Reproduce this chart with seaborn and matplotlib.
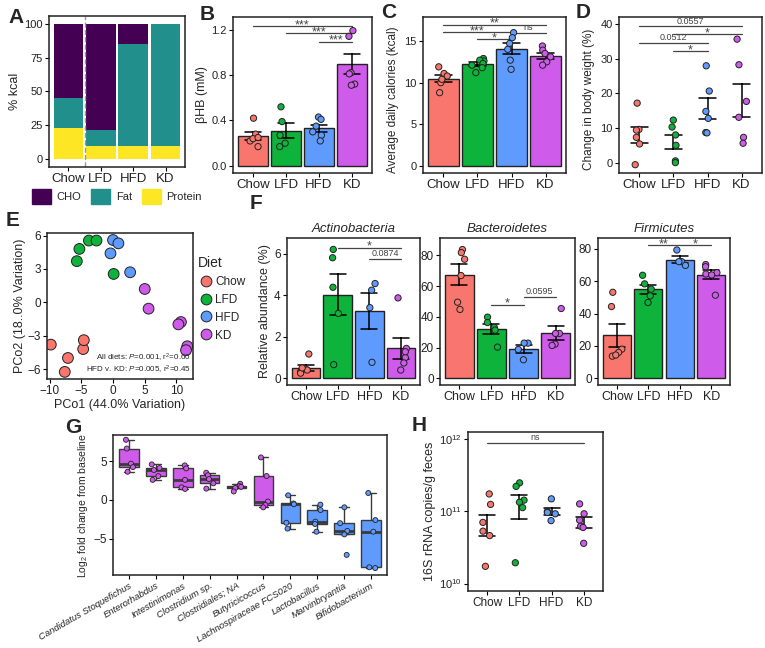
import numpy as np
import pandas as pd
import seaborn as sns
import matplotlib.pyplot as plt
from matplotlib.patches import Patch

sns.set_theme(style='ticks')
plt.rcParams['font.family'] = ['Liberation Sans', 'DejaVu Sans']
plt.rcParams['mathtext.fontset'] = 'custom'
plt.rcParams['mathtext.rm'] = 'Liberation Sans'
plt.rcParams['mathtext.it'] = 'Liberation Sans:italic'

diets = ['Chow', 'LFD', 'HFD', 'KD']
pal = {'Chow': '#F8766D', 'LFD': '#0DB33A', 'HFD': '#5F9BFF', 'KD': '#CF5BEA'}

# A - diet composition (% kcal)
macros = ['CHO', 'Fat', 'Protein']
macro_colors = ['#440154', '#21908C', '#FDE725']
kcal_cho = [55, 78, 15, 0]
kcal_fat = [22, 12, 75, 90.5]
kcal_protein = [23, 10, 10, 9.5]

# B - beta-hydroxybutyrate (mM)
bhb = {'Chow': [0.42, 0.28, 0.22, 0.24, 0.17, 0.25],
       'LFD': [0.52, 0.39, 0.27, 0.20, 0.17],
       'HFD': [0.43, 0.41, 0.35, 0.27, 0.22, 0.30],
       'KD': [1.19, 1.14, 0.82, 0.81, 0.72, 0.71]}
sig_b = [(0, 3, 1.23, '***'), (1, 3, 1.165, '***'), (2, 3, 1.094, '***')]

# C - average daily calories (kcal)
calories = {'Chow': [11.9, 11.1, 10.8, 10.0, 8.8, 10.4],
            'LFD': [12.9, 12.6, 12.7, 12.3, 11.8, 11.2, 12.1],
            'HFD': [16.0, 15.4, 14.7, 14.0, 12.7, 11.6],
            'KD': [14.4, 13.9, 13.5, 13.1, 12.5, 12.1]}
sig_c = [(0, 3, 16.96, '**'), (0, 2, 16.08, '***'), (2, 3, 15.96, 'ns'), (1, 2, 15.24, '*')]

# D - change in body weight (%)
weight = {'Chow': [17.2, 9.6, 9.4, 7.3, 5.4, -0.6],
          'LFD': [12.3, 10.3, 8.0, 5.0, 0.5, 0.0],
          'HFD': [28.0, 20.7, 14.8, 12.8, 8.7, 8.6],
          'KD': [35.7, 28.3, 17.7, 13.1, 7.3, 5.6]}
sig_d = [(0, 3, 39.4, '0.0557'), (1, 3, 37.2, '*'), (0, 2, 34.6, '0.0512'), (1, 2, 32.3, '*')]

# E - PCoA
pco_diet = ['Chow'] * 5 + ['LFD'] * 5 + ['HFD'] * 4 + ['KD'] * 6
pco1 = [-9.8, -7.1, -7.6, -4.7, -4.6,
        -5.3, -5.7, -3.8, -2.6, 0.1,
        0.0, 0.85, -0.4, 2.7,
        5.0, 5.6, 10.7, 10.3, 11.7, 11.5]
pco2 = [-3.8, -5.0, -6.25, -4.2, -3.4,
        4.8, 3.7, 5.55, 5.55, 2.55,
        5.6, 5.3, 4.4, 2.7,
        1.2, -0.57, -1.77, -1.98, -3.95, -4.3]

# F - phylum relative abundance (%)
actino = {'Chow': [1.17, 0.45, 0.40, 0.30, 0.25, 0.50],
          'LFD': [6.2, 5.8, 4.38, 3.12, 0.66],
          'HFD': [4.56, 4.24, 3.4, 0.77],
          'KD': [3.87, 1.44, 1.0, 0.74, 0.4, 1.28]}
bactero = {'Chow': [83.7, 81.7, 77.4, 66.8, 49.5, 44.8],
           'LFD': [39.8, 36.3, 33.1, 31.4, 20.3],
           'HFD': [22.9, 22.9, 18.8, 12.1],
           'KD': [45.4, 29.2, 29.2, 22.3, 21.4]}
firmi = {'Chow': [53.1, 44.3, 18.0, 16.0, 13.7, 14.4],
         'LFD': [63.6, 58.3, 55.0, 50.9, 46.8],
         'HFD': [79.2, 72.0, 69.7, 72.0],
         'KD': [70.2, 68.9, 64.4, 65.2, 63.8, 51.3]}
sig_f1 = [(1, 3, 6.29, '*'), (2, 3, 5.76, '0.0874')]
sig_f2 = [(1, 2, 47.8, '*'), (2, 3, 53.0, '0.0595')]
sig_f3 = [(1, 2, 82.0, '**'), (2, 3, 82.0, '*')]

# G - log2 fold change per genus
genera = ['Candidatus Stoquefichus', 'Enterorhabdus', 'Intestinimonas', 'Clostridium sp.',
          'Clostridiales; NA', 'Butyricicoccus', 'Lachnospiraceae FCS020', 'Lactobacillus',
          'Marvinbryantia', 'Bifidobacterium']
genus_group = ['KD'] * 6 + ['HFD'] * 4
fold = [[7.78, 6.65, 4.69, 4.25, 3.65],
        [4.6, 4.13, 3.87, 3.08, 2.6],
        [4.47, 4.08, 2.6, 1.64, 1.43],
        [3.52, 3.2, 2.7, 2.15, 1.47],
        [2.1, 1.8, 1.7, 1.55, 1.1],
        [5.5, 3.1, -0.2, -0.65, -0.95],
        [0.6, -0.45, -0.55, -2.95, -3.7],
        [-0.6, -1.3, -2.8, -3.1, -4.1],
        [-0.95, -3.0, -4.0, -4.45, -7.1],
        [0.9, -2.6, -4.1, -8.7, -8.8]]

# H - 16S rRNA copies / g feces
copies = {'Chow': [1.73e11, 1.24e11, 7.0e10, 5.3e10, 4.6e10, 1.73e10],
          'LFD': [2.46e11, 2.2e11, 1.42e11, 1.33e11, 1.12e11, 1.94e10],
          'HFD': [1.48e11, 9.9e10, 9.2e10, 7.4e10, 9.6e10],
          'KD': [1.26e11, 9.2e10, 7.5e10, 6.2e10, 5.96e10, 3.6e10]}
sig_h = [(0, 3, 8.8e11, 'ns')]


def long(d):
    return pd.DataFrame([(k, v) for k, vals in d.items() for v in vals], columns=['diet', 'value'])


def rect(l, t, r, b):
    return [l / 765, 1 - b / 648, (r - l) / 765, (b - t) / 648]


def style(ax, xsize=9.5, ysize=8):
    for s in ax.spines.values():
        s.set_visible(True)
        s.set_linewidth(1.1)
        s.set_color('#222222')
    ax.tick_params(length=3, width=0.8, color='black', labelcolor='#222222')
    ax.tick_params(axis='x', labelsize=xsize, pad=1.5)
    ax.tick_params(axis='y', labelsize=ysize, pad=1.5)
    ax.set_xlabel('')


def sig(ax, items):
    for x1, x2, y, lab in items:
        ax.plot([x1, x2], [y, y], color='#444444', lw=0.9)
        if '*' in lab:
            ax.annotate(lab, ((x1 + x2) / 2, y), xytext=(0, -1.5), textcoords='offset points',
                        ha='center', va='baseline', fontsize=9, color='#444444')
        else:
            ax.annotate(lab, ((x1 + x2) / 2, y), xytext=(0, 0.5), textcoords='offset points',
                        ha='center', va='bottom', fontsize=6.5, color='#444444')


def points(ax, df, size=4.5, jitter=0.2):
    sns.stripplot(data=df, x='diet', y='value', hue='diet', order=diets, hue_order=diets,
                  palette=pal, jitter=jitter, size=size, edgecolor='#222222', linewidth=0.7,
                  legend=False, ax=ax, zorder=4)


def bars(ax, d):
    df = long(d)
    sns.barplot(data=df, x='diet', y='value', hue='diet', order=diets, hue_order=diets,
                palette=pal, errorbar='se', capsize=0.5, width=0.9, saturation=1,
                err_kws={'color': 'black', 'linewidth': 1.1}, edgecolor='#222222',
                linewidth=1, legend=False, ax=ax)
    points(ax, df)
    ax.set_xlim(-0.6, 3.6)


def errbars(ax, d):
    df = long(d)
    points(ax, df, jitter=0.15)
    sns.pointplot(data=df, x='diet', y='value', order=diets, errorbar='se', capsize=0.5,
                  color='black', linestyle='none', marker='', err_kws={'linewidth': 1.1}, ax=ax)
    ax.set_xlim(-0.6, 3.6)


np.random.seed(3)
fig = plt.figure(figsize=(7.65, 6.48), dpi=100)

# A
ax = fig.add_axes(rect(49, 16, 185, 167))
bottom = np.zeros(4)
for name, vals, col in zip(['Protein', 'Fat', 'CHO'], [kcal_protein, kcal_fat, kcal_cho], macro_colors[::-1]):
    ax.bar(diets, vals, bottom=bottom, color=col, width=0.92, linewidth=0)
    bottom += np.array(vals)
ax.axvline(0.5, color='#999999', ls='--', lw=1.0)
ax.set_ylim(-5.6, 105.6)
ax.set_xlim(-0.6, 3.6)
ax.set_yticks([0, 25, 50, 75, 100])
ax.set_ylabel('% kcal', fontsize=9, labelpad=2)
style(ax)
fig.legend(handles=[Patch(color=c, label=m) for m, c in zip(macros, macro_colors)],
           loc='upper center', bbox_to_anchor=(117 / 765, 1 - 179 / 648), ncol=3, frameon=False,
           fontsize=8, handlelength=1.7, handleheight=1.7, handletextpad=0.5, columnspacing=0.9)

# B
ax = fig.add_axes(rect(233, 17, 372, 173))
bars(ax, bhb)
sig(ax, sig_b)
ax.set_ylim(-0.062, 1.31)
ax.set_yticks([0.0, 0.4, 0.8, 1.2])
ax.set_yticklabels(['0.0', '0.4', '0.8', '1.2'])
ax.set_ylabel('βHB (mM)', fontsize=9, labelpad=2)
style(ax)

# C
ax = fig.add_axes(rect(423, 17, 566, 173))
bars(ax, calories)
sig(ax, sig_c)
ax.set_ylim(-0.84, 17.88)
ax.set_yticks([0, 5, 10, 15])
ax.set_ylabel('Average daily calories (kcal)', fontsize=8.5, labelpad=2)
ax.yaxis.set_label_coords(-0.17, 0.47)
style(ax)

# D
ax = fig.add_axes(rect(619, 17, 762, 173))
errbars(ax, weight)
sig(ax, sig_d)
ax.set_ylim(-3.0, 42.1)
ax.set_yticks([0, 10, 20, 30, 40])
ax.set_ylabel('Change in body weight (%)', fontsize=8.5, labelpad=2)
ax.yaxis.set_label_coords(-0.17, 0.47)
style(ax)

# E
ax = fig.add_axes(rect(47, 233, 193, 379))
dfe = pd.DataFrame({'PCo1': pco1, 'PCo2': pco2, 'Diet': pco_diet})
sns.scatterplot(data=dfe, x='PCo1', y='PCo2', hue='Diet', hue_order=diets, palette=pal,
                s=60, edgecolor='#222222', linewidth=0.7, ax=ax)
ax.set_xlim(-10.4, 12.6)
ax.set_ylim(-6.89, 6.23)
ax.set_xticks([-10, -5, 0, 5, 10])
ax.set_xticklabels(['−10', '−5', '0', '5', '10'])
ax.set_yticks([-6, -3, 0, 3, 6])
ax.set_yticklabels(['−6', '−3', '0', '3', '6'])
style(ax, xsize=8.5, ysize=8.5)
ax.set_xlabel('PCo1 (44.0% Variation)', fontsize=9, labelpad=1)
ax.set_ylabel('PCo2 (18..0% Variation)', fontsize=9, labelpad=1)
ax.text(0.985, 0.1, r'All diets: $\mathit{P}$=0.001, r$^2$=0.60', transform=ax.transAxes,
        ha='right', va='bottom', fontsize=5.8)
ax.text(0.985, 0.02, r'HFD v. KD: $\mathit{P}$=0.005, r$^2$=0.45', transform=ax.transAxes,
        ha='right', va='bottom', fontsize=5.8)
leg = ax.legend(title='Diet', loc='center left', bbox_to_anchor=(1.0, 0.55), frameon=False,
                fontsize=8.5, title_fontsize=10, handletextpad=0.1, labelspacing=0.5,
                borderaxespad=0, handlelength=1.4)
leg._legend_box.align = 'left'

# F
for (l, r), d, title, lim, ticks, s in [((287, 420), actino, 'Actinobacteria', (-0.32, 6.75), [0, 2, 4, 6], sig_f1),
                                         ((440, 575), bactero, 'Bacteroidetes', (-4.3, 91.2), [0, 20, 40, 60, 80], sig_f2),
                                         ((598, 730), firmi, 'Firmicutes', (-4.1, 86.6), [0, 20, 40, 60, 80], sig_f3)]:
    ax = fig.add_axes(rect(l, 238, r, 385))
    bars(ax, d)
    sig(ax, s)
    ax.set_ylim(*lim)
    ax.set_yticks(ticks)
    ax.set_title(title, fontsize=9.5, style='italic', pad=4)
    style(ax, xsize=9, ysize=8.5)
    if title == 'Actinobacteria':
        ax.set_ylabel('Relative abundance (%)', fontsize=9, labelpad=2)
    else:
        ax.set_ylabel('')

# G
ax = fig.add_axes(rect(113, 435, 387, 575))
dfg = pd.DataFrame([(g, v, grp) for g, vals, grp in zip(genera, fold, genus_group) for v in vals],
                   columns=['genus', 'value', 'group'])
gpal = {g: pal[grp] for g, grp in zip(genera, genus_group)}
sns.boxplot(data=dfg, x='genus', y='value', hue='genus', order=genera, palette=gpal, saturation=1,
            showfliers=False, width=0.72, linecolor='#3a3a3a', linewidth=1.0,
            medianprops={'linewidth': 2}, legend=False, ax=ax)
sns.stripplot(data=dfg, x='genus', y='value', hue='genus', order=genera, palette=gpal,
              jitter=0.18, size=3.6, edgecolor='#222222', linewidth=0.6, legend=False, ax=ax)
ax.set_ylim(-9.7, 8.4)
ax.set_xlim(-0.6, 9.6)
ax.set_yticks([-5, 0, 5])
ax.set_yticklabels(['−5', '0', '5'])
style(ax, xsize=6.8, ysize=8.5)
ax.set_xticks(range(len(genera)))
ax.set_xticklabels(genera, rotation=30, ha='right', rotation_mode='anchor', style='italic')
ax.set_ylabel('Log$_2$ fold change from baseline', fontsize=7.5, labelpad=2)

# H
ax = fig.add_axes(rect(468, 432, 603, 591))
ax.set_yscale('log')
errbars(ax, copies)
sig(ax, sig_h)
ax.set_ylim(7.9e9, 1.24e12)
ax.set_yticks([1e10, 1e11, 1e12])
ax.set_yticklabels(['$10^{10}$', '$10^{11}$', '$10^{12}$'])
ax.minorticks_off()
style(ax, xsize=8.5, ysize=8)
ax.set_ylabel('16S rRNA copies/g feces', fontsize=9, labelpad=2)

for lab, x, y in [('A', 8, 8), ('B', 200, 5), ('C', 381, 3), ('D', 576, 3), ('E', 6, 211),
                  ('F', 250, 194), ('G', 65, 418), ('H', 412, 416)]:
    fig.text(x / 765, 1 - y / 648, lab, fontsize=15, fontweight='bold', va='top', ha='left')

fig.savefig('out.png', dpi=100)
